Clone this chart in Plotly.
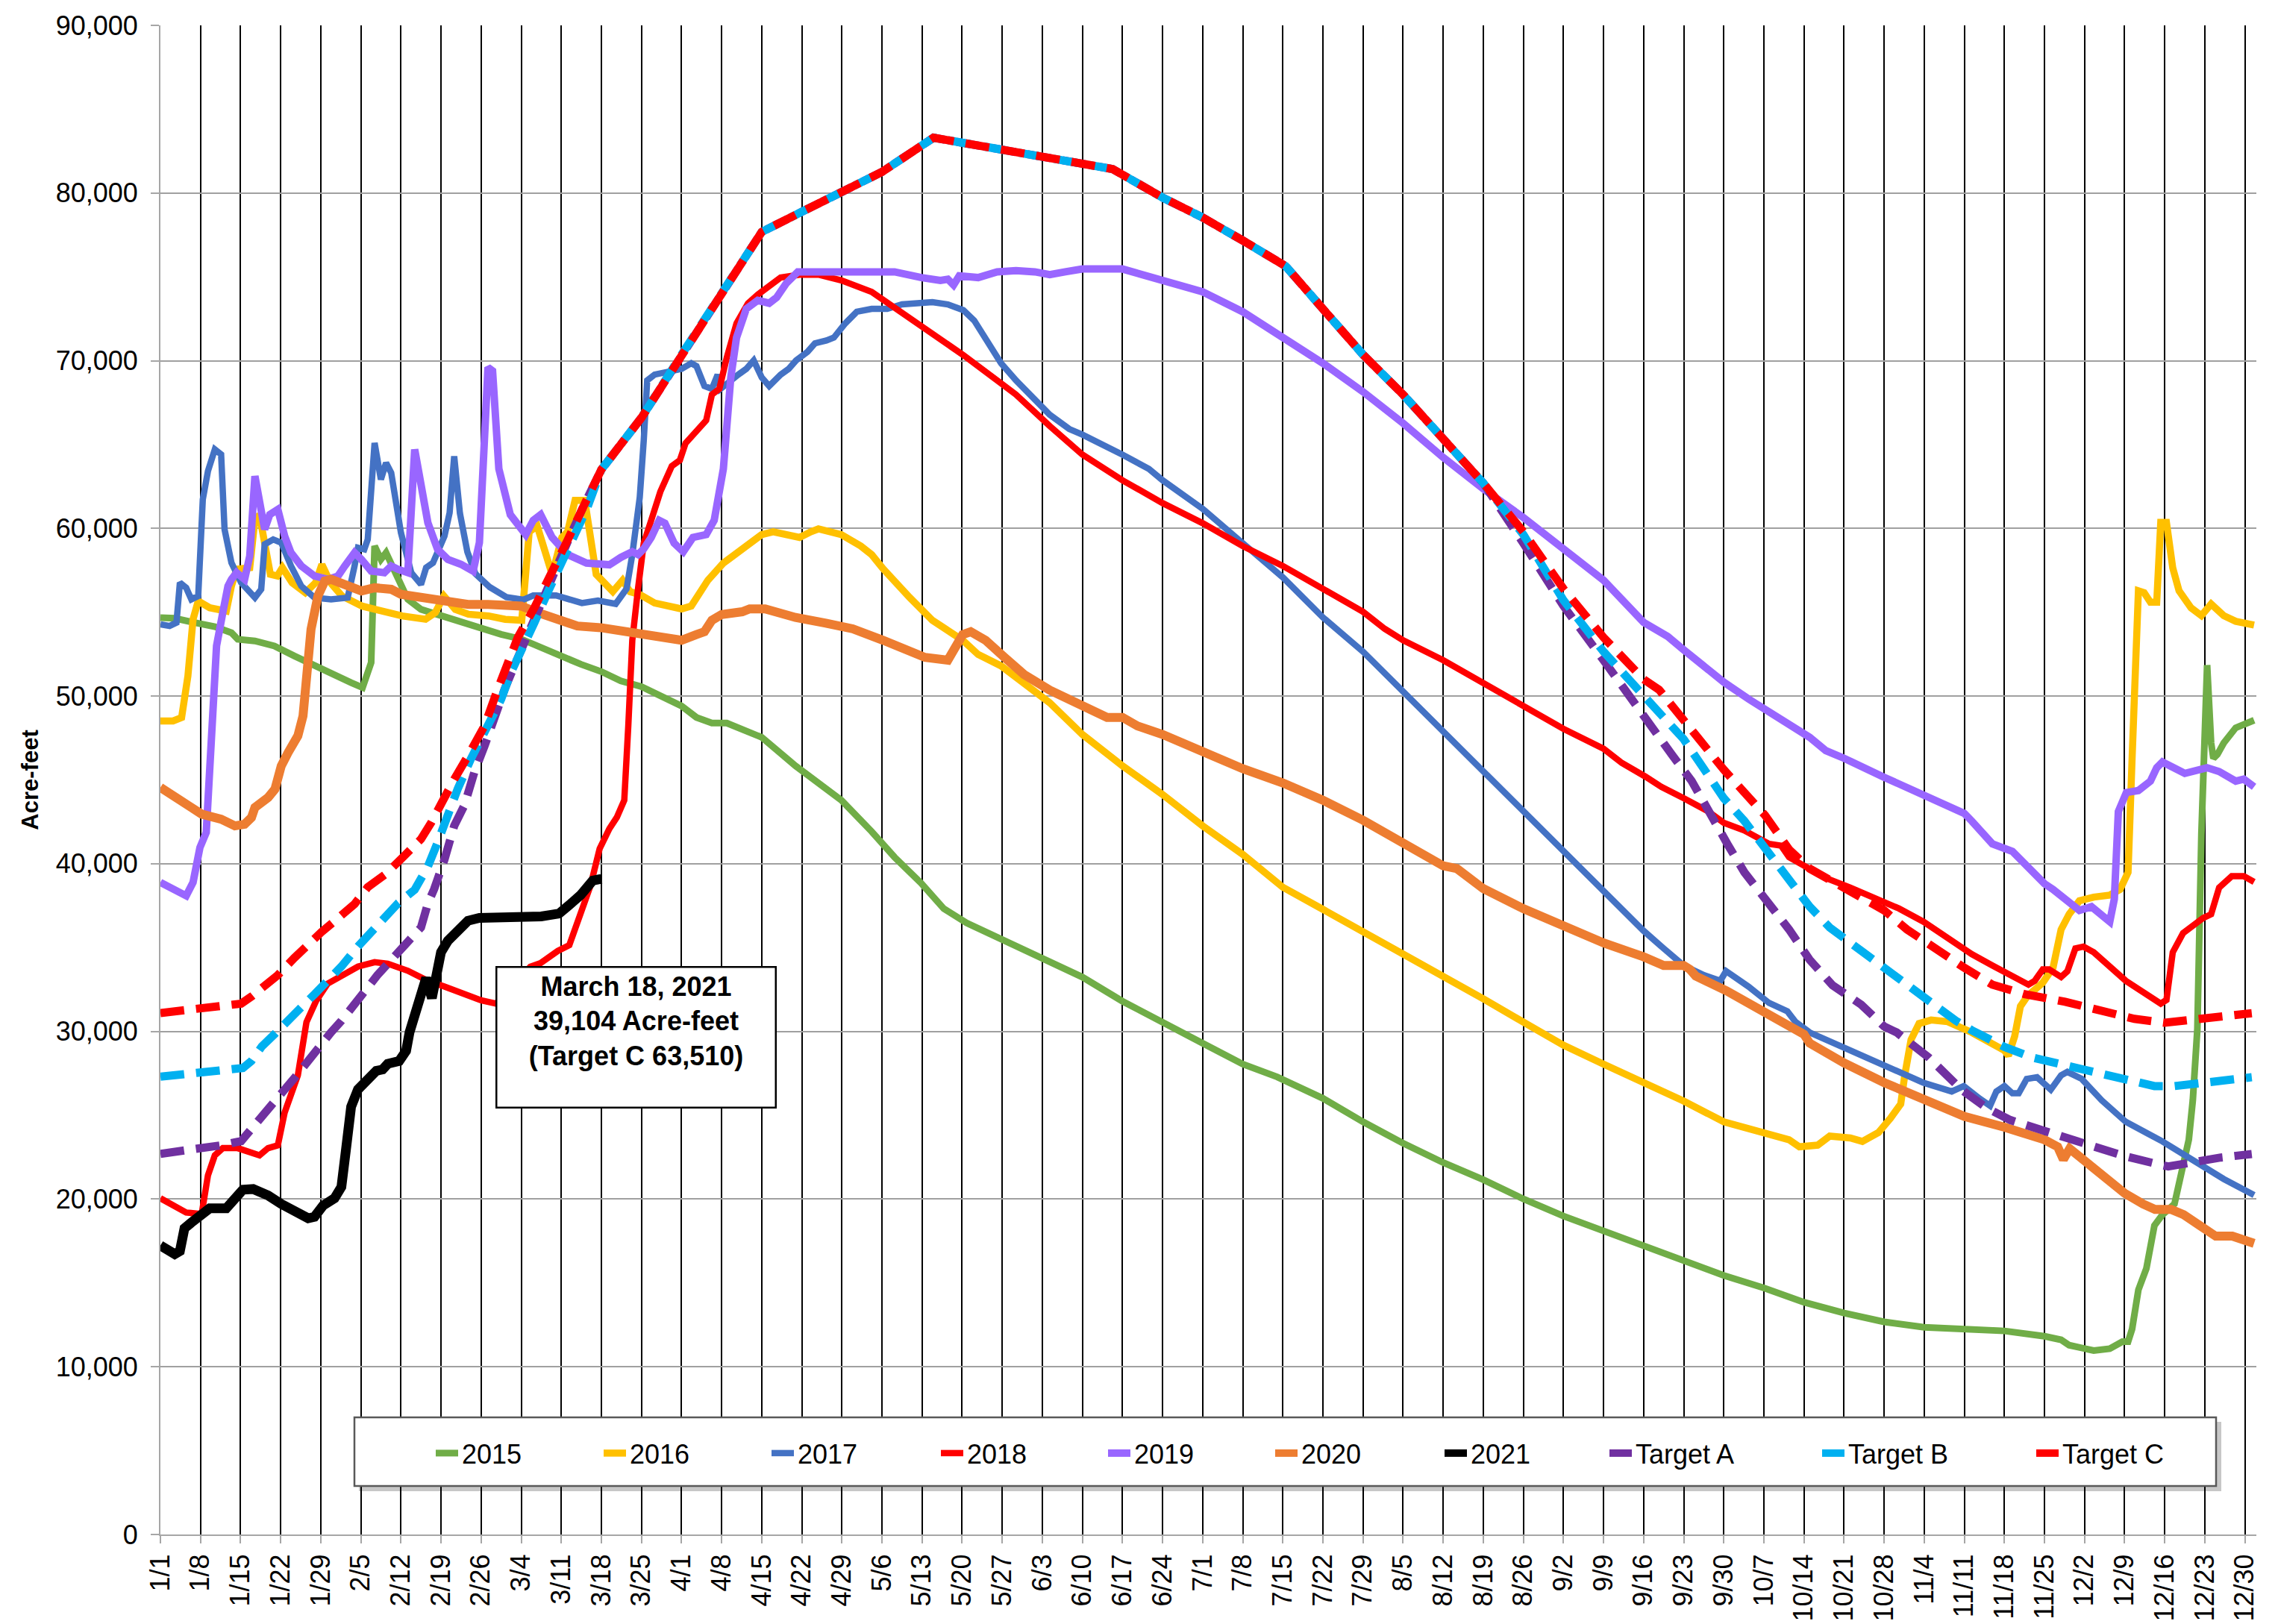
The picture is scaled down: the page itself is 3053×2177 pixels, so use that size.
import plotly.graph_objects as go

FONT = "Liberation Sans, Arial, Helvetica, sans-serif"

# ---------------- data (day of year, acre-feet) ----------------
tick_labels = ["1/1", "1/8", "1/15", "1/22", "1/29", "2/5", "2/12", "2/19", "2/26", "3/4", "3/11",
               "3/18", "3/25", "4/1", "4/8", "4/15", "4/22", "4/29", "5/6", "5/13", "5/20", "5/27",
               "6/3", "6/10", "6/17", "6/24", "7/1", "7/8", "7/15", "7/22", "7/29", "8/5", "8/12",
               "8/19", "8/26", "9/2", "9/9", "9/16", "9/23", "9/30", "10/7", "10/14", "10/21",
               "10/28", "11/4", "11/11", "11/18", "11/25", "12/2", "12/9", "12/16", "12/23", "12/30"]
tick_days = list(range(1, 366, 7))

pts_2015 = [(1,54680),(3.5,54640),(7,54380),(10.5,54140),(13.4,53780),(14.5,53390),(17.5,53290),(20.9,52990),
    (24.4,52390),(27.9,51800),(31.4,51200),(34.3,50800),(36.3,50510),(37.8,52000),(38.4,58950),(39.5,58150),
    (40.4,58550),(41.9,57360),(44.2,55770),(46.5,55170),(50,54780),(53.5,54380),(57,53980),(60.5,53680),
    (64,53400),(67.5,52890),(71,52310),(74.4,51900),(78,51460),(81.4,50900),(85,50560),(89.5,49810),
    (92,49410),(94.6,48730),(97.3,48390),(99.9,48390),(106,47540),(111.9,45840),(115.9,44820),(119.9,43790),
    (125.2,41920),(129.2,40390),(133.8,38860),(137.8,37320),(141.8,36470),(147.1,35620),(151.1,34940),
    (156.3,34090),(162,33240),(169,31800),(176,30500),(183,29300),(190,28050),(196,27290),(204,26010),
    (211,24610),(218,23330),(225,22180),(232,21160),(239,20010),(246,18990),(253,18100),(260,17150),
    (267,16300),(274,15450),(281,14700),(288,13850),(295,13210),(302,12680),(309,12360),(316,12250),
    (323,12140),(330,11820),(332.9,11610),(334.3,11290),(338.6,10970),(341.4,11080),(343.6,11500),
    (344.6,11500),(345.3,12250),(346.4,14590),(347.8,15870),(349.2,18430),(350.6,19070),(352.7,19710),
    (353.8,21410),(355.2,23540),(355.9,25890),(356.7,30150),(357.4,41760),(358.1,48560),(358.4,51850),
    (359.1,47200),(359.5,46290),(360.2,46520),(361.3,47200),(363.4,48110),(366.6,48560)]

pts_2016 = [(1,48520),(3.2,48520),(4.7,48720),(5.8,51200),(6.7,54580),(7.6,55670),(9.6,55270),(12.5,55070),
    (13.4,56560),(14.3,57560),(16.6,57660),(17.5,60540),(18.3,60800),(20.2,57260),(21.4,57160),(22.3,57660),
    (24,56760),(26.3,56170),(28.1,56760),(29.2,57850),(30.7,56760),(32.7,55970),(36.2,55370),(39.7,55070),
    (43.2,54780),(47.3,54580),(49,54980),(50.5,55970),(52.5,55170),(54.8,54880),(58.3,54780),(61.2,54580),
    (64.1,54520),(65.4,59800),(66.8,60140),(69.4,57250),(71.1,59460),(72.1,59800),(73.4,61670),(75.1,61670),
    (76.1,59120),(77.1,57250),(80,56230),(81.7,56910),(83,56230),(84.7,56060),(87.3,55550),(92,55200),
    (93.7,55370),(96.6,56910),(99.3,57930),(102.6,58780),(106,59630),(108,59800),(112.6,59460),(114.6,59800),
    (115.9,59970),(119.9,59630),(123.3,58950),(125.2,58440),(127.2,57590),(131.8,55890),(135.8,54520),
    (141.1,53330),(143.8,52480),(147.8,51800),(151.8,50780),(156.3,49600),(162,47710),(169,45840),
    (176,44130),(183,42260),(190,40560),(197,38600),(204,37280),(211,35960),(218,34650),(225,33270),
    (232,31950),(239,30560),(246,29180),(253,28050),(260,26950),(267,25850),(274,24610),(281,23970),
    (285.4,23540),(287.2,23120),(290.4,23220),(292.5,23760),(296.1,23650),(298.2,23440),(301,23970),
    (303.1,24820),(304.9,25670),(305.6,27380),(306.7,29510),(308.1,30470),(310.2,30680),(313.1,30580),
    (317.3,29940),(323,28870),(323.7,28550),(324.8,29720),(325.8,31500),(327,32100),(329.7,32910),
    (331.5,33810),(332.9,36080),(334.3,36990),(336.1,37790),(338.6,38010),(341.4,38130),(343.2,38470),
    (344.6,39490),(345.3,46290),(346,52650),(346.4,56280),(347.4,56170),(348.5,55600),(349.6,55600),
    (350.3,60360),(351.3,60360),(352.4,57640),(353.5,56280),(355.6,55260),(357.4,54800),(359.1,55490),
    (361.3,54800),(363.4,54460),(366.6,54240)]

pts_2017 = [(1,54280),(2.6,54180),(3.8,54380),(4.4,56760),(5.5,56460),(6.4,55770),(7.6,55970),(8.4,61730),
    (9.3,63420),(10.5,64710),(11.6,64410),(12.2,59940),(13.4,57950),(15.1,56760),(17.5,55870),(18.6,56370),
    (19.2,59050),(20.7,59340),(22.1,59150),(23.8,57760),(25.6,56560),(27.9,55870),(30.8,55770),(33.7,55870),
    (34.9,57760),(35.5,58850),(36.6,58750),(37.2,59340),(38.4,65100),(39.5,62920),(40.4,63910),(41.3,63310),
    (43,59740),(44.8,57360),(46.5,56660),(47.4,57660),(48.6,57950),(50.6,59540),(51.5,60930),(52.3,64300),
    (53.3,60900),(54.6,58600),(56,57300),(58.5,56500),(61.4,55900),(64.4,55750),(66.1,56000),(70.1,56000),
    (74.6,55550),(77.4,55700),(80.5,55500),(82.4,56400),(83.4,58440),(84.7,61850),(85.4,65250),(86,68830),
    (87.3,69170),(90,69340),(92,69510),(93.7,69850),(94.6,69680),(96,68490),(97.3,68320),(98.3,69170),
    (98.8,68320),(101.9,69170),(103.3,69510),(104.6,70020),(106,69000),(107.3,68490),(109.3,69170),
    (110.7,69510),(112,70020),(114,70530),(115.3,71040),(117.3,71210),(118.6,71380),(120.6,72230),
    (122.6,72920),(125.2,73090),(127.9,73090),(130.5,73360),(133.8,73430),(135.8,73490),(138.5,73360),
    (141.2,73020),(143.1,72400),(145.1,71380),(147.8,69850),(150.4,68830),(153.7,67640),(156.3,66780),
    (159.7,65930),(162,65590),(169,64400),(173.6,63550),(176,62870),(183,61170),(190,59120),(197,57080),
    (204,54690),(211,52650),(218,50270),(225,47880),(232,45500),(239,43120),(246,40730),(253,38350),
    (260,36000),(263.5,34950),(267,33930),(270.5,33360),(273.4,33020),(274.4,33600),(278.3,32680),
    (281.9,31700),(285.1,31200),(286.5,30580),(289,29940),(296.1,28870),(303.2,27810),(308.8,26950),
    (313.8,26420),(315.9,26740),(318.7,25990),(320.5,25570),(321.6,26420),(323,26740),(324.4,26310),
    (325.5,26310),(326.9,27170),(328.7,27270),(331.1,26530),(332.9,27380),(334,27590),(336.5,27170),
    (340,25890),(344.2,24610),(350.6,23440),(356.3,22270),(361.3,21200),(366.6,20240)]

pts_2018 = [(1,20050),(3.5,19540),(5.5,19200),(8.2,19110),(9.3,21420),(10.5,22610),(11.9,23040),(14.5,23040),
    (18.3,22610),(19.8,23040),(21.5,23210),(22.7,25170),(23.8,26360),(25,27390),(26.5,30550),(28.2,31830),
    (30.2,32850),(32,33190),(35.5,33870),(38.4,34130),(40.7,34040),(44.2,33620),(47.7,33020),(50.6,32680),
    (54.1,32250),(57,31860),(59.6,31660),(65.6,33860),(67.4,34080),(70.4,34800),(72.4,35150),(74.4,36980),
    (76.1,38690),(77.7,40900),(79.4,42090),(80.7,42770),(82,43790),(82.7,48220),(83.4,53330),(84.4,56400),
    (85.4,59120),(86.7,60480),(88.3,62190),(90.3,63720),(91.7,64060),(92.7,65080),(95.3,66100),(96.3,66440),
    (97.3,67980),(98.6,68320),(99.9,70190),(101.6,72230),(103.6,73420),(105.3,73940),(109.3,74960),
    (112.6,75130),(115.9,75130),(119.9,74790),(125.2,74110),(131.8,72580),(137.1,71380),(141.1,70360),
    (147.1,68830),(150.4,67980),(156.3,66100),(162,64400),(169,62870),(176,61510),(183,60310),(190,58950),
    (197,57760),(204,56400),(211,55030),(214.8,54010),(218,53330),(225,52140),(232,50780),(239,49410),
    (246,48050),(253,46860),(256.2,46010),(260.3,45200),(263.1,44590),(267,43910),(271.3,43120),(274,42440),
    (277.6,41980),(281.9,41190),(284,41080),(285.4,40390),(289,39710),(291.8,39150),(296.1,38580),
    (300.4,37900),(304.6,37330),(308.9,36540),(313.1,35520),(317.3,34610),(320.9,33930),(324.4,33250),
    (327.2,32790),(328.3,33020),(329.7,33700),(330.8,33700),(332.9,33250),(334,33590),(335.4,34950),
    (336.8,35060),(338.6,34720),(344.2,33020),(350.3,31660),(351.3,31880),(352.4,34720),(354.2,35860),
    (357.7,36760),(359.1,36990),(359.8,37670),(360.5,38580),(362.7,39260),(364.8,39260),(366.6,38920)]

pts_2019 = [(1,38890),(3.5,38390),(5.5,38090),(6.7,38890),(7.9,40970),(9,41870),(9.9,48020),(10.8,52990),
    (12,55170),(12.8,56560),(13.4,56960),(14.3,57360),(15.7,56960),(16.6,58350),(17.5,63120),(18.3,61530),
    (19.2,59940),(20.1,60830),(21.5,61130),(22.7,59540),(23.8,58550),(25.6,57760),(27.9,57160),(30.2,56960),
    (32,57160),(33.2,57760),(34.9,58550),(36.1,58150),(37.8,57460),(40.1,57360),(41.3,57760),(42.5,57560),
    (44.2,57360),(45.4,64710),(46.5,62720),(47.7,60340),(49.4,58750),(51.2,58150),(53.5,57860),(55.6,57450),
    (56.7,59150),(57.3,64310),(58.2,69600),(59,69400),(60.1,63550),(62.1,60820),(64.8,59630),(66.1,60480),
    (67.4,60820),(69.4,59460),(72.1,58440),(75.4,57930),(79.4,57830),(81.4,58270),(83.4,58610),(84.4,58440),
    (85.4,58780),(86.7,59460),(88.1,60480),(89.1,60310),(90.7,59120),(92.3,58610),(94,59460),(96.3,59630),
    (97.7,60480),(99.3,63550),(100.6,69000),(101.6,71380),(103.3,73090),(105.3,73600),(107.3,73430),
    (108.6,73770),(110.3,74620),(112.3,75300),(118.6,75300),(125.3,75300),(129.2,75300),(133.9,74960),
    (137.2,74790),(138.5,74860),(139.5,74520),(140.5,75060),(143.8,74960),(147.1,75300),(150.4,75370),
    (153.7,75300),(156.3,75130),(159,75300),(162,75470),(169,75470),(176,74790),(183,74110),(190,72920),
    (197,71380),(204,69850),(211,68150),(218,66270),(225,64230),(232,62360),(239,60650),(246,58780),
    (253,56910),(260,54400),(264.2,53560),(267,52760),(271.3,51510),(274,50830),(278.4,49810),(281.9,49020),
    (285.4,48220),(289,47540),(291.8,46750),(295,46290),(302,45160),(309,44030),(316,43000),(317.3,42550),
    (320.9,41190),(324.4,40740),(327.2,39710),(330,38810),(331.5,38470),(334.3,37670),(336.1,37220),
    (338.2,37440),(340,36880),(341.4,36540),(342.2,37900),(342.9,43120),(344.3,44250),(346.4,44370),
    (348.5,44930),(349.6,45730),(350.6,46070),(352.7,45730),(354.5,45390),(358.4,45730),(360.5,45500),
    (363.4,44930),(364.8,45050),(366.6,44590)]

pts_2020 = [(1,44550),(3.5,44050),(5.8,43450),(8.2,42960),(11.6,42660),(14,42260),(15.7,42360),(16.9,42760),
    (17.5,43360),(19.8,43950),(21,44450),(22.1,45840),(23.3,46630),(25,47630),(25.9,48820),(26.5,51200),
    (27.3,53980),(28.5,55970),(29.7,56860),(30.8,56960),(32.6,56760),(36.1,56270),(38.4,56460),(41.3,56370),
    (43,56070),(45.4,55970),(48.3,55870),(51.2,55670),(54.7,55470),(58.2,55470),(62.8,55470),(64,55370),
    (66.9,54980),(69.8,54680),(73.8,54180),(77.9,54080),(81.4,53880),(84.9,53780),(87.8,53490),(89.8,53390),
    (92,53330),(94.6,53670),(96,53840),(97.3,54520),(99,54860),(102.6,55030),(103.9,55200),(106.6,55200),
    (111.9,54690),(117.2,54350),(121.9,54010),(127.2,53330),(131.8,52650),(134.5,52310),(138.5,52140),
    (139.8,52990),(141.1,53670),(142.5,53840),(145.1,53330),(148.4,52310),(151.8,51290),(156.3,50350),
    (162,49410),(166.3,48730),(169,48730),(171.6,48220),(176,47710),(183,46690),(190,45670),(197,44820),
    (204,43790),(211,42600),(218,41240),(225,39880),(227.4,39710),(232,38520),(239,37320),(246,36300),
    (253,35280),(260,34450),(263.5,33930),(267,33930),(268.1,33700),(269.1,33300),(274.5,32420),
    (281.9,31000),(288,29830),(289,29300),(295,28120),(302,26950),(309,25890),(316,24930),(323,24290),
    (330,23540),(332.3,23120),(333.3,22370),(334.4,23010),(337,22260),(344,20350),(347.2,19710),
    (349.3,19390),(352.1,19390),(354.3,19070),(357.1,18430),(359.9,17790),(362.8,17790),(366.6,17360)]

pts_2021 = [(1,17235),(3.5,16720),(4.4,16900),(5.2,18260),(6.4,18600),(8.2,19030),(9.6,19450),(12.5,19450),
    (14,20050),(15.4,20560),(17.2,20600),(19.8,20220),(22.1,19710),(24.4,19280),(26.8,18860),(27.9,18940),
    (29.4,19620),(31.4,20050),(32.6,20730),(33.4,22950),(34.3,25510),(35.5,26540),(37.2,27220),(38.7,27650),
    (39.8,27730),(40.7,28070),(42.7,28240),(43.9,28840),(44.5,29950),(45.1,30630),(45.9,31660),(46.5,32510),
    (47.4,33190),(48.4,31990),(49.1,33190),(50,34730),(51.2,35410),(52.9,36090),(54.7,36600),(56.7,36770),
    (61,36770),(64,36860),(67.5,36860),(69.2,36950),(70.6,37030),(72.7,37630),(74.4,38140),(76.5,39000),
    (78,39104)]

pts_target_a = [(1,22700),(4.7,22870),(8.7,23040),(11.6,23210),(15.1,23460),(16.9,24150),(18.7,24910),
    (20.4,25510),(22.7,26540),(24.4,27220),(26.8,28240),(28.5,29100),(30.8,29950),(32.6,30630),(34.9,31660),
    (37.2,32680),(38.9,33360),(40.7,34040),(42.5,34730),(44.2,35410),(46.5,36200),(47.7,37630),(48.8,38490),
    (50.6,40250),(52.3,42260),(54.1,43500),(55.8,45440),(57.6,47030),(59.3,48820),(61.1,50410),(62.8,51800),
    (64.5,53190),(66.3,54580),(68,55970),(70.4,57950),(72.1,59200),(75,61400),(78,63510),(85,66600),
    (92,70360),(99,73940),(106,77680),(113,78880),(120,80070),(127,81260),(136,83300),(162,81770),
    (167.3,81430),(176,79730),(183,78540),(190,77170),(197.5,75640),(204,73090),(211,70360),(218,67980),
    (225,65420),(232,62700),(239,59120),(246,55380),(253,52140),(260,48760),(264.9,46520),(268.4,44930),
    (271.3,43120),(274.8,41080),(277.6,39490),(281.9,37670),(285.4,36080),(289,34270),(293,32750),
    (298,31600),(302,30300),(304.2,29940),(309.8,28440),(315.5,26530),(319.8,25460),(324,24720),
    (331.1,23970),(336.7,23330),(343.8,22580),(350.2,22050),(351.6,21950),(360.8,22480),(366.2,22690)]

pts_target_b = [(1,27300),(4.7,27420),(8.7,27560),(13.4,27730),(15.4,27820),(16.9,28240),(18.7,29100),
    (21,29860),(23.3,30720),(25.7,31480),(28,32250),(30.3,33020),(32.6,33870),(35.5,35070),(37.8,35920),
    (40.4,36950),(42.5,37650),(45.4,38450),(47.7,39830),(49.4,41270),(51.2,43060),(52.9,44450),(55.2,46240),
    (57.6,47830),(60.5,49810),(62.2,51400),(64.5,52990),(66.3,54380),(68.6,56170),(70.9,57760),(73.2,59340),
    (75.5,61200),(78,63510),(85,66600),(92,70360),(99,73940),(106,77680),(113,78880),(120,80070),
    (127,81260),(136,83300),(162,81770),(167.3,81430),(176,79730),(183,78540),(190,77170),(197.5,75640),
    (204,73090),(211,70360),(218,67980),(225,65420),(232,62700),(239,59630),(246,55720),(253,52650),
    (260,49930),(262.7,49020),(267,47430),(269.8,46070),(274,43910),(277.6,42550),(281.9,40620),
    (285.4,39030),(289,37440),(292.5,36200),(297.5,34950),(302,33700),(306,32680),(310.2,31660),
    (314.5,30640),(317.3,30070),(323,29080),(327.9,28440),(335,27910),(342.1,27270),(349.2,26740),
    (352.7,26740),(359.8,27060),(366.2,27270)]

pts_target_c = [(1,31100),(4.7,31230),(8,31330),(11.1,31480),(15.1,31660),(16.9,32080),(19.2,32680),
    (21.5,33360),(24.4,34390),(27,35300),(29.1,35920),(31.5,36600),(34.9,37600),(37.2,38600),(40.4,39400),
    (43.6,40480),(46.5,41470),(48.3,42460),(50,43650),(52.3,45040),(54.7,46430),(57.6,48220),(59.9,50410),
    (61.6,52000),(63.4,53490),(66.3,55270),(69.2,57200),(72.1,59300),(75,61400),(78,63510),(85,66600),
    (92,70360),(99,73940),(106,77680),(113,78880),(120,80070),(127,81260),(136,83300),(162,81770),
    (167.3,81430),(176,79730),(183,78540),(190,77170),(197.5,75640),(204,73090),(211,70360),(218,67980),
    (225,65420),(232,62700),(239,59800),(246,56400),(253,53500),(260,51000),(262.7,50380),(267,48560),
    (270.5,46980),(274,45610),(277.6,44250),(281.2,42890),(285.4,40850),(289,39710),(296.1,38350),
    (302,37220),(306,36080),(310.2,35060),(315.9,33820),(320.9,32790),(326.5,32230),(333.6,31770),
    (340,31200),(345.7,30750),(351,30520),(358,30750),(366.2,31090)]

# ---------------- styling ----------------
series = [
    ("2015", pts_2015, "#70AD47", 9, "solid", 180),
    ("2016", pts_2016, "#FFC000", 9.5, "solid", 180),
    ("2017", pts_2017, "#4472C4", 8.5, "solid", 182),
    ("2018", pts_2018, "#FF0000", 8.5, "solid", 179),
    ("2019", pts_2019, "#9966FF", 10, "solid", 179),
    ("2020", pts_2020, "#ED7D31", 12, "solid", 182),
    ("2021", pts_2021, "#000000", 13, "solid", 176),
    ("Target A", pts_target_a, "#7030A0", 11, "32px,16px", 240),
    ("Target B", pts_target_b, "#00B0F0", 11, "32px,16px", 242),
    ("Target C", pts_target_c, "#FF0000", 11, "32px,16px", 150),
]

W, H = 3053, 2177
PL, PR, PT, PB = 207, 3016, 26, 2049


def px_x(px):
    return (px - PL) / (PR - PL)


def px_y(py):
    return (PB - py) / (PB - PT)


fig = go.Figure()
for name, pts, color, width, dash, lw in series:
    fig.add_trace(go.Scatter(
        x=[p[0] for p in pts], y=[p[1] for p in pts], mode="lines", name=name,
        line=dict(color=color, width=width, dash=dash),
        legendwidth=lw, hoverinfo="skip"))

# legend frame (drawn as shapes, legend itself sits on top)
fig.add_shape(type="rect", xref="paper", yref="paper",
              x0=px_x(473), x1=px_x(2969), y0=px_y(1991), y1=px_y(1898),
              fillcolor="rgba(0,0,0,0.22)", line=dict(width=0), layer="above")
fig.add_shape(type="rect", xref="paper", yref="paper",
              x0=px_x(467), x1=px_x(2962), y0=px_y(1984), y1=px_y(1892),
              fillcolor="white", line=dict(color="#595959", width=2.5), layer="above")

fig.add_annotation(
    x=84.1, y=29640, xref="x", yref="y",
    text="March 18, 2021<br>39,104 Acre-feet<br>(Target C 63,510)",
    showarrow=False, xanchor="center", yanchor="middle",
    font=dict(family=FONT, size=36, color="black", weight="bold"),
    bgcolor="white", bordercolor="black", borderwidth=2.5, borderpad=4,
    width=364, height=178, valign="top", align="center")

fig.update_layout(
    width=W, height=H,
    margin=dict(l=PL, r=W - PR, t=PT, b=H - PB, pad=0),
    paper_bgcolor="white", plot_bgcolor="white",
    font=dict(family=FONT, size=36, color="black"),
    showlegend=True,
    legend=dict(orientation="h", x=px_x(571), y=px_y(1940), xanchor="left", yanchor="middle",
                bgcolor="rgba(0,0,0,0)", borderwidth=0,
                font=dict(family=FONT, size=36, color="black"), traceorder="normal"),
    xaxis=dict(range=[1, 367], tickmode="array", tickvals=tick_days, ticktext=tick_labels,
               tickangle=-90, tickfont=dict(family=FONT, size=36, color="black"),
               showgrid=True, gridcolor="#000000", gridwidth=1.8,
               ticks="outside", ticklen=10, tickcolor="#a6a6a6", tickwidth=2,
               showline=True, linecolor="#a6a6a6", linewidth=2, zeroline=False,
               automargin=False, fixedrange=True),
    yaxis=dict(range=[0, 90000], tick0=0, dtick=10000, tickformat=",",
               tickfont=dict(family=FONT, size=36, color="black"),
               showgrid=True, gridcolor="#a0a0a0", gridwidth=2.2,
               ticks="outside", ticklen=11, tickcolor="#a6a6a6", tickwidth=2,
               ticklabelstandoff=10,
               showline=True, linecolor="#a6a6a6", linewidth=2, zeroline=False,
               title=dict(text="Acre-feet", standoff=14,
                          font=dict(family=FONT, size=31, color="black", weight="bold")),
               automargin=False, fixedrange=True),
)

fig.write_html("out.html")
